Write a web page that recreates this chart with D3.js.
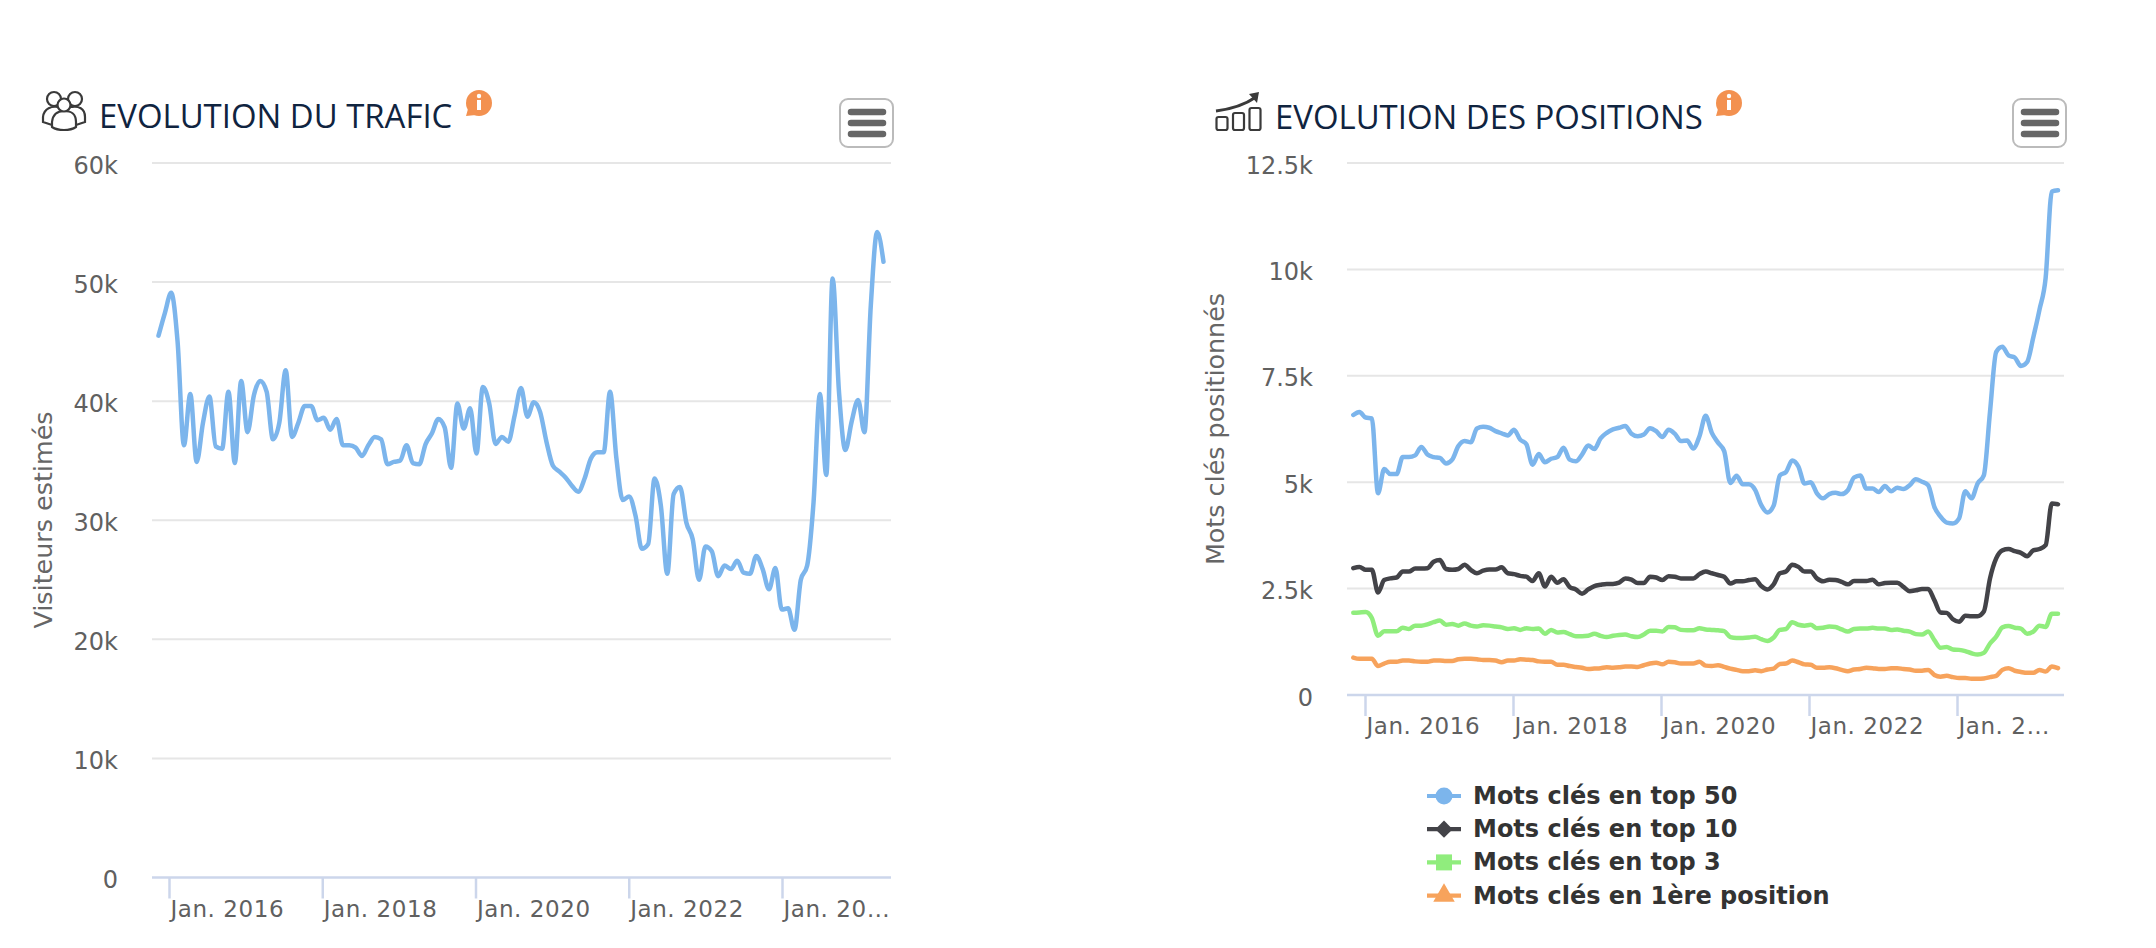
<!DOCTYPE html>
<html>
<head>
<meta charset="utf-8">
<script src="https://cdn.jsdelivr.net/npm/d3@7"></script>
<style>
  body { margin: 0; background: #fff; }
  text { font-family: "DejaVu Sans", sans-serif; }
</style>
</head>
<body>
<svg id="chart" width="2156" height="948"></svg>
<script>
// monthly values, in thousands
const visiteurs = [
  45.5,47.4,49.1,45,36.3,40.6,34.9,38.2,40.4,36.2,
  36,40.8,34.8,41.7,37.4,40.5,41.7,40.8,36.8,38.2,
  42.6,37,38.2,39.6,39.6,38.4,38.6,37.6,38.5,36.3,
  36.3,36.1,35.4,36.3,37,36.8,34.7,34.9,35,36.3,
  34.8,34.7,36.4,37.3,38.5,37.8,34.4,39.8,37.7,39.4,
  35.6,41.2,39.8,36.4,37,36.6,38.8,41.1,38.7,39.9,
  39.1,36.6,34.6,34.1,33.6,32.9,32.4,33.5,35.2,35.7,
  35.7,40.8,35.2,31.7,32,30.4,27.6,28,33.5,31.2,
  25.5,32.2,32.8,29.8,28.4,25,27.8,27.4,25.3,26.2,
  25.9,26.6,25.6,25.5,27,25.9,24.2,26,22.5,22.6,
  20.8,25,26.2,31.5,40.6,33.8,50.3,40.8,35.9,38.3,
  40.1,37.4,48,54.2,51.7
];
const top50 = [
  6.58,6.65,6.52,6.5,4.74,5.31,5.19,5.19,5.59,5.59,
  5.63,5.83,5.65,5.59,5.57,5.44,5.53,5.85,5.97,5.94,
  6.26,6.3,6.28,6.2,6.15,6.1,6.23,6,5.89,5.41,
  5.66,5.47,5.55,5.59,5.81,5.53,5.49,5.65,5.86,5.78,
  6.03,6.16,6.24,6.28,6.32,6.14,6.08,6.12,6.27,6.2,
  6.06,6.23,6.14,5.97,5.98,5.79,6.08,6.56,6.16,5.93,
  5.73,4.98,5.15,4.95,4.95,4.82,4.46,4.29,4.45,5.16,
  5.24,5.51,5.37,4.97,5,4.74,4.62,4.72,4.75,4.72,
  4.81,5.11,5.16,4.85,4.85,4.77,4.91,4.79,4.87,4.84,
  4.93,5.07,5.01,4.93,4.42,4.19,4.05,4.03,4.15,4.79,
  4.62,4.97,5.16,6.65,8.06,8.18,7.98,7.93,7.73,7.82,
  8.4,9.05,9.8,11.83,11.86
];
const top10 = [
  2.98,3.01,2.94,2.94,2.41,2.7,2.74,2.76,2.9,2.9,
  2.97,2.97,2.98,3.13,3.17,2.96,2.94,2.96,3.06,2.94,
  2.86,2.92,2.95,2.95,3,2.86,2.84,2.8,2.78,2.68,
  2.86,2.55,2.78,2.64,2.72,2.54,2.48,2.38,2.48,2.56,
  2.59,2.61,2.61,2.64,2.74,2.71,2.63,2.63,2.78,2.76,
  2.7,2.79,2.78,2.74,2.74,2.74,2.84,2.9,2.86,2.82,
  2.78,2.62,2.67,2.67,2.7,2.72,2.56,2.48,2.6,2.86,
  2.9,3.06,3.01,2.9,2.9,2.74,2.67,2.71,2.7,2.66,
  2.6,2.68,2.68,2.68,2.71,2.6,2.63,2.64,2.64,2.54,
  2.44,2.46,2.49,2.49,2.23,1.94,1.93,1.78,1.72,1.86,
  1.85,1.85,1.96,2.74,3.21,3.4,3.43,3.38,3.34,3.26,
  3.4,3.43,3.52,4.5,4.48
];
const top3 = [
  1.93,1.94,1.95,1.81,1.39,1.5,1.5,1.5,1.58,1.55,
  1.63,1.63,1.66,1.71,1.75,1.65,1.67,1.63,1.68,1.63,
  1.61,1.64,1.63,1.61,1.59,1.55,1.57,1.53,1.57,1.55,
  1.56,1.44,1.53,1.47,1.48,1.43,1.38,1.38,1.39,1.44,
  1.39,1.36,1.39,1.41,1.42,1.38,1.36,1.42,1.51,1.51,
  1.49,1.6,1.59,1.53,1.52,1.52,1.57,1.54,1.53,1.52,
  1.5,1.36,1.34,1.34,1.35,1.37,1.31,1.27,1.35,1.53,
  1.55,1.71,1.65,1.63,1.65,1.57,1.58,1.61,1.6,1.54,
  1.49,1.55,1.56,1.56,1.58,1.56,1.56,1.53,1.54,1.51,
  1.49,1.43,1.42,1.49,1.29,1.11,1.13,1.07,1.06,1.03,
  0.98,0.95,0.99,1.21,1.37,1.59,1.62,1.58,1.56,1.44,
  1.49,1.63,1.6,1.91,1.91
];
const first = [
  0.88,0.85,0.85,0.85,0.68,0.74,0.78,0.78,0.81,0.81,
  0.79,0.78,0.78,0.81,0.81,0.8,0.8,0.84,0.85,0.85,
  0.84,0.82,0.82,0.81,0.77,0.81,0.81,0.84,0.83,0.82,
  0.79,0.78,0.78,0.71,0.71,0.68,0.66,0.64,0.61,0.62,
  0.63,0.65,0.64,0.65,0.67,0.67,0.66,0.7,0.74,0.76,
  0.72,0.78,0.77,0.74,0.74,0.74,0.78,0.69,0.68,0.7,
  0.66,0.62,0.59,0.56,0.56,0.58,0.56,0.6,0.62,0.73,
  0.74,0.81,0.77,0.72,0.71,0.64,0.64,0.65,0.63,0.59,
  0.56,0.6,0.61,0.64,0.63,0.61,0.61,0.63,0.63,0.61,
  0.6,0.57,0.57,0.59,0.47,0.43,0.45,0.42,0.4,0.4,
  0.38,0.38,0.39,0.42,0.45,0.59,0.63,0.57,0.54,0.52,
  0.52,0.59,0.55,0.67,0.63
];

const monthTicks = [0, 24, 48, 72, 96]; // months after Jan. 2016
const labelsTrafic = ["Jan. 2016", "Jan. 2018", "Jan. 2020", "Jan. 2022", "Jan. 20…"];
const labelsPositions = ["Jan. 2016", "Jan. 2018", "Jan. 2020", "Jan. 2022", "Jan. 2…"];
const ticksTrafic = [0, 10, 20, 30, 40, 50, 60];
const ticksPositions = [0, 2.5, 5, 7.5, 10, 12.5];

// d3.symbolDiamond is too narrow, the legend one is a square on its corner
const symbolRhomb = {
  draw(ctx, size) {
    const r = Math.sqrt(size / 2);
    ctx.moveTo(0, -r);
    ctx.lineTo(r, 0);
    ctx.lineTo(0, r);
    ctx.lineTo(-r, 0);
    ctx.closePath();
  }
};

const seriesTrafic = [{values: visiteurs, color: "#7cb5ec"}];
const seriesPositions = [
  {name: "Mots clés en top 50", values: top50, color: "#7cb5ec", symbol: d3.symbolCircle, size: 227},
  {name: "Mots clés en top 10", values: top10, color: "#434348", symbol: symbolRhomb, size: 150},
  {name: "Mots clés en top 3", values: top3, color: "#90ed7d", symbol: d3.symbolSquare, size: 256},
  {name: "Mots clés en 1ère position", values: first, color: "#f7a35c", symbol: d3.symbolTriangle, size: 200}
];

const svg = d3.select("#chart");
const kFormat = d => d === 0 ? "0" : d + "k";

function drawChart(o) {
  const y = d3.scaleLinear().domain([0, o.yMax]).range([o.bottom, 163]);
  const x = d3.scaleLinear().domain([0, o.series[0].values.length - 1]).range(o.xData);
  const xTick = d3.scaleLinear().domain([0, 96]).range(o.xTicks);
  const g = svg.append("g");

  // grid
  g.append("g").selectAll("line")
    .data(o.yTicks.filter(d => d > 0))
    .join("line")
      .attr("x1", o.left).attr("x2", o.right)
      .attr("y1", d => y(d)).attr("y2", d => y(d))
      .attr("stroke", "#e6e6e6").attr("stroke-width", 2);

  // y labels
  const yAxis = g.append("g")
    .attr("transform", `translate(${o.labelX},0)`)
    .call(d3.axisLeft(y).tickValues(o.yTicks).tickFormat(kFormat).tickSize(0).tickPadding(0));
  yAxis.select(".domain").remove();
  yAxis.selectAll("text")
    .attr("dy", "0.42em")
    .attr("fill", "#606060")
    .style("font-size", "24px")
    .style("font-family", '"DejaVu Sans", sans-serif');

  // x axis, labels start at the tick
  const xAxis = g.append("g")
    .attr("transform", `translate(0,${o.bottom})`)
    .call(d3.axisBottom(xTick).tickValues(monthTicks).tickFormat((d, i) => o.xLabels[i]).tickSize(21).tickSizeOuter(0));
  xAxis.select(".domain").remove();
  xAxis.selectAll("line").attr("stroke", "#ccd6eb").attr("stroke-width", 2.5);
  xAxis.selectAll("text")
    .attr("text-anchor", "start")
    .attr("x", 1).attr("y", 39).attr("dy", 0)
    .attr("fill", "#606060")
    .style("font-size", "23px")
    .style("letter-spacing", "0.55px")
    .style("font-family", '"DejaVu Sans", sans-serif');
  g.append("line")
    .attr("x1", o.left).attr("x2", o.right)
    .attr("y1", o.bottom).attr("y2", o.bottom)
    .attr("stroke", "#ccd6eb").attr("stroke-width", 2.5);

  // y title
  g.append("text")
    .attr("transform", `translate(${o.titleX},${o.titleY}) rotate(-90)`)
    .attr("text-anchor", "middle")
    .attr("fill", "#666")
    .style("font-size", "25.4px")
    .text(o.yTitle);

  // series
  const line = d3.line()
    .x((d, i) => x(i))
    .y(d => y(d))
    .curve(d3.curveMonotoneX);
  g.append("g").selectAll("path")
    .data(o.series)
    .join("path")
      .attr("d", d => line(d.values))
      .attr("fill", "none")
      .attr("stroke", d => d.color)
      .attr("stroke-width", 4.5)
      .attr("stroke-linecap", "round")
      .attr("stroke-linejoin", "round");

  // heading
  g.append("text")
    .attr("x", o.headX).attr("y", o.headY)
    .attr("fill", "#10243f")
    .style("font-family", '"Open Sans", sans-serif')
    .style("font-size", "32.9px")
    .text(o.heading);

  // info badge
  const info = g.append("g").attr("transform", `translate(${o.infoX},103)`);
  info.append("circle").attr("r", 13).attr("fill", "#f39150");
  info.append("path").attr("d", "M-11,6 L-13,13 L-3,12 Z").attr("fill", "#f39150");
  info.append("rect").attr("x", -2).attr("y", -3).attr("width", 4).attr("height", 10).attr("fill", "#fff");
  info.append("circle").attr("cy", -7).attr("r", 2.2).attr("fill", "#fff");

  // menu button
  const btn = g.append("g").attr("transform", `translate(${o.btnX},98)`);
  btn.append("rect").attr("x", 1).attr("y", 1).attr("width", 53).attr("height", 48).attr("rx", 8)
    .attr("fill", "#fff").attr("stroke", "#bbb").attr("stroke-width", 2);
  btn.selectAll("line")
    .data([14, 25, 36])
    .join("line")
      .attr("x1", 12).attr("x2", 44)
      .attr("y1", d => d).attr("y2", d => d)
      .attr("stroke", "#666").attr("stroke-width", 6.5).attr("stroke-linecap", "round");
}

drawChart({
  series: seriesTrafic, yMax: 60, yTicks: ticksTrafic, bottom: 877.5,
  left: 152, right: 891, labelX: 118, xData: [158.5, 883.5], xTicks: [169, 782],
  xLabels: labelsTrafic, yTitle: "Visiteurs estimés", titleX: 52, titleY: 520,
  heading: "EVOLUTION DU TRAFIC", headX: 99, headY: 128, infoX: 479, btnX: 839
});
drawChart({
  series: seriesPositions, yMax: 12.5, yTicks: ticksPositions, bottom: 695,
  left: 1347, right: 2064, labelX: 1313, xData: [1353.3, 2058], xTicks: [1365, 1957],
  xLabels: labelsPositions, yTitle: "Mots clés positionnés", titleX: 1224, titleY: 429,
  heading: "EVOLUTION DES POSITIONS", headX: 1275, headY: 129, infoX: 1729, btnX: 2012
});

// legend
const legend = svg.append("g").selectAll("g")
  .data(seriesPositions)
  .join("g")
    .attr("transform", (d, i) => `translate(1427,${796 + i * 33.2})`);
legend.append("line")
  .attr("x2", 34)
  .attr("stroke", d => d.color).attr("stroke-width", 4.2);
legend.append("path")
  .attr("transform", "translate(17,0)")
  .attr("d", d => d3.symbol(d.symbol, d.size)())
  .attr("fill", d => d.color);
legend.append("text")
  .attr("x", 46).attr("y", 8)
  .attr("fill", "#333")
  .style("font-size", "24px")
  .style("font-weight", "bold")
  .text(d => d.name);

// people icon
const people = svg.append("g")
  .attr("fill", "#fff").attr("stroke", "#3a3a3a").attr("stroke-width", 2.2);
people.append("circle").attr("cx", 54).attr("cy", 99).attr("r", 7);
people.append("circle").attr("cx", 75).attr("cy", 99).attr("r", 7);
people.append("path").attr("d", "M43,122 L43,117 C44,108 52,106 58,107 L72,107 C78,106 85,108 85,117 L85,122 L76,125 L52,125 Z");
people.append("path").attr("d", "M52,127 L52,122 C53,113 58,111 64,111 C71,111 76,113 76,122 L76,127 C70,131 58,131 52,127 Z");
people.append("circle").attr("cx", 64).attr("cy", 105).attr("r", 6.5);

// ranking icon
const rank = svg.append("g")
  .attr("fill", "none").attr("stroke", "#3a3a3a").attr("stroke-width", 2.2);
rank.append("rect").attr("x", 1216.5).attr("y", 117).attr("width", 11).attr("height", 13).attr("rx", 2);
rank.append("rect").attr("x", 1233).attr("y", 113).attr("width", 11).attr("height", 17).attr("rx", 2);
rank.append("rect").attr("x", 1249.5).attr("y", 108).attr("width", 11).attr("height", 22).attr("rx", 2);
rank.append("path").attr("d", "M1216,111 C1232,109 1246,104 1256,97").attr("stroke-width", 3);
rank.append("path").attr("d", "M1249,94 L1259,92 L1257,103 Z").attr("fill", "#3a3a3a").attr("stroke", "none");
</script>
</body>
</html>
